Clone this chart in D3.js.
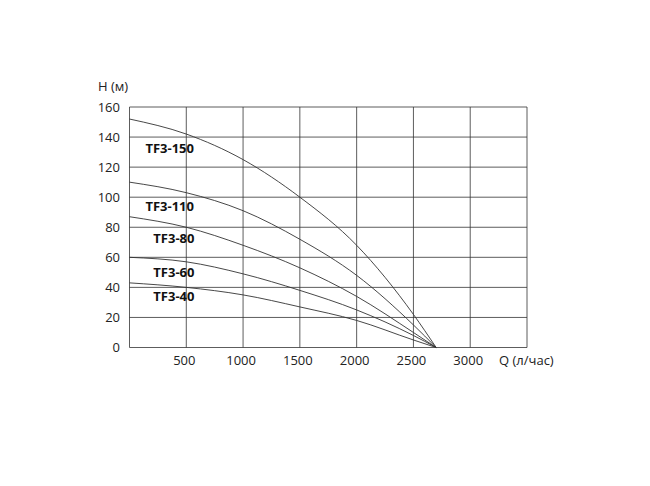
<!DOCTYPE html>
<html><head><meta charset="utf-8">
<script src="https://cdn.jsdelivr.net/npm/d3@7"></script>
<style>body{margin:0;background:#fff}text{font-family:"Open Sans",sans-serif}</style>
</head><body><div class="canva"></div>
<script>
const flows = [0, 500, 1000, 1500, 2000, 2500, 2700]
const tf150 = [152, 142, 125, 100, 68, 22, 0]
const tf110 = [110, 103, 91, 72, 48, 15, 0]
const tf80 = [87, 80, 68, 53, 34, 10, 0]
const tf60 = [60, 57, 49, 38, 25, 8, 0]
const tf40 = [43, 40, 35, 27, 18, 5, 0]
const seriesNames = ["TF3-150", "TF3-110", "TF3-80", "TF3-60", "TF3-40"]
const labelX = [140, 140, 210, 210, 210]
const labelY = [133, 94, 73, 50.5, 34]
const xTicks = [500, 1000, 1500, 2000, 2500, 3000]
const yTicks = [0, 20, 40, 60, 80, 100, 120, 140, 160]

const x = d3.scaleLinear().domain([0, 3500]).range([129.5, 527])
const y = d3.scaleLinear().domain([0, 160]).range([347.5, 107])

const svg = d3.select('.canva').append('svg').attr('width', 650).attr('height', 486)

// grid
svg.append('g').selectAll('line').data([0].concat(xTicks, [3500])).enter().append('line')
  .attr('x1', d => x(d)).attr('x2', d => x(d)).attr('y1', y(0)).attr('y2', y(160))
  .attr('stroke', '#333').attr('stroke-width', 0.8)
svg.append('g').selectAll('line').data(yTicks).enter().append('line')
  .attr('x1', x(0)).attr('x2', x(3500)).attr('y1', d => y(d)).attr('y2', d => y(d))
  .attr('stroke', '#333').attr('stroke-width', 0.8)

// tick labels
svg.append('g').selectAll('text').data(yTicks).enter().append('text')
  .attr('x', 120).attr('y', d => y(d) + 4.5).attr('text-anchor', 'end')
  .attr('font-size', 13).attr('fill', '#222').text(d => d)
svg.append('g').selectAll('text').data(xTicks).enter().append('text')
  .attr('x', d => x(d) - 2).attr('y', 365).attr('text-anchor', 'middle')
  .attr('font-size', 13).attr('fill', '#222').text(d => d)
svg.append('text').attr('x', 98).attr('y', 91).attr('font-size', 13).attr('fill', '#222').text('H (м)')
svg.append('text').attr('x', 499).attr('y', 365).attr('font-size', 13).attr('fill', '#222').text('Q (л/час)')

// curves
const line = d3.line().x((d, i) => x(flows[i])).y(d => y(d)).curve(d3.curveMonotoneX)
const all = [tf150, tf110, tf80, tf60, tf40]
svg.append('g').selectAll('path').data(all).enter().append('path')
  .attr('d', line).attr('fill', 'none').attr('stroke', '#333').attr('stroke-width', 0.9)

svg.append('g').selectAll('text').data(seriesNames).enter().append('text')
  .attr('x', (d, i) => x(labelX[i])).attr('y', (d, i) => y(labelY[i]) + 5)
  .attr('font-size', 13).attr('font-weight', 'bold').attr('fill', '#111').text(d => d)
</script></body></html>
